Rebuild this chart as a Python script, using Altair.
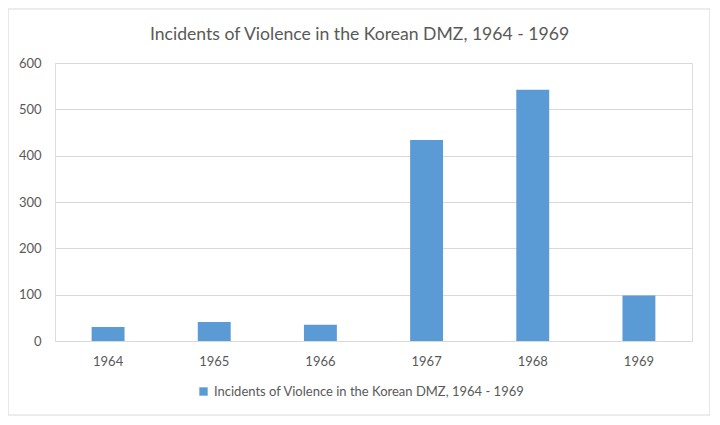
import altair as alt
import pandas as pd

years = ["1964", "1965", "1966", "1967", "1968", "1969"]
incidents = [30, 41, 35, 434, 542, 98]
series_name = "Incidents of Violence in the Korean DMZ, 1964 - 1969"
title_text = "Incidents of Violence in the Korean DMZ, 1964 - 1969"

df = pd.DataFrame({"year": years, "incidents": incidents, "series": [series_name] * len(years)})

FONT = "Lato"
GRAY = "#595959"

bars = alt.Chart(df).mark_bar(color="#5b9bd5").encode(
    x=alt.X("year:N", title=None, sort=years,
            scale=alt.Scale(paddingInner=0.69, paddingOuter=0.345),
            axis=alt.Axis(labelAngle=0, ticks=False, domainColor="#d9d9d9",
                          labelColor=GRAY, labelFont=FONT, labelFontSize=13, labelPadding=14)),
    y=alt.Y("incidents:Q", title=None,
            scale=alt.Scale(domain=[0, 600], nice=False),
            axis=alt.Axis(values=[0, 100, 200, 300, 400, 500, 600], ticks=False, domain=False,
                          gridColor="#d9d9d9", labelColor=GRAY, labelFont=FONT,
                          labelFontSize=13, labelPadding=14)),
    color=alt.Color("series:N", title=None,
                    scale=alt.Scale(range=["#5b9bd5"]),
                    legend=alt.Legend(orient="none", legendX=142, legendY=322,
                                      direction="horizontal", symbolType="square",
                                      symbolSize=70, symbolStrokeWidth=0, labelFont=FONT,
                                      labelFontSize=13, labelColor=GRAY,
                                      labelLimit=500)),
)

frame_df = pd.DataFrame({"a": [0]})
frame = alt.Chart(frame_df).mark_rect(fill="transparent", stroke="#d9d9d9", strokeWidth=1.2).encode(
    x=alt.value(-47), x2=alt.value(655), y=alt.value(-54), y2=alt.value(352)
)

chart = alt.layer(frame, bars).properties(
    width=637, height=278,
    title=alt.TitleParams(title_text, font=FONT, fontSize=17.6, fontWeight="normal",
                          color=GRAY, anchor="middle", frame="group", offset=-35, dx=-14),
    autosize=alt.AutoSizeParams(type="none"),
    padding={"left": 47, "top": 55, "right": 18, "bottom": 80},
).configure_view(stroke=None).configure(background="white")

chart.save("out.html", embed_options={"renderer": "svg", "actions": False})
